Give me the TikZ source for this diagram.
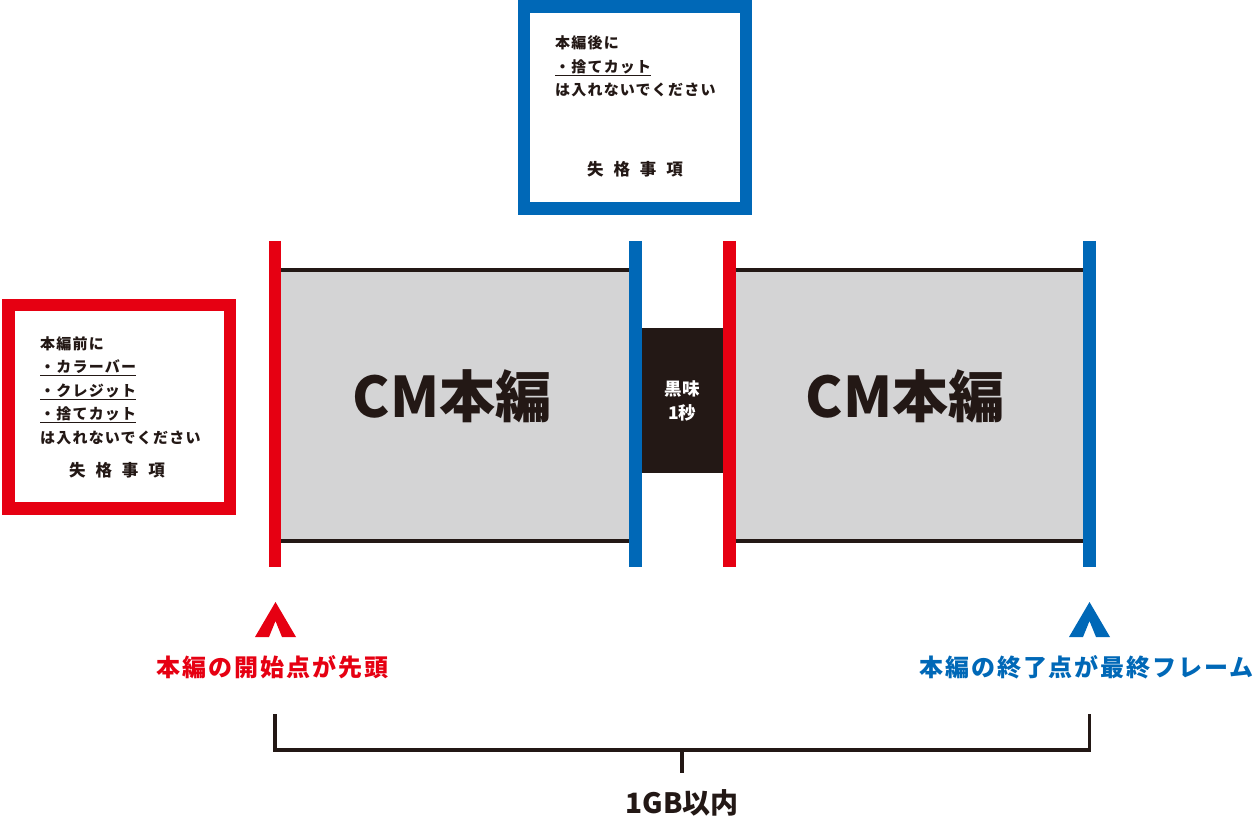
\documentclass[tikz,border=0pt]{standalone}
\usepackage{fontspec}
\setmainfont{Noto Sans CJK JP}
\usetikzlibrary{positioning}
\definecolor{cmred}{HTML}{E60012}
\definecolor{cmblue}{HTML}{0068B7}
\definecolor{cmgray}{HTML}{D4D4D5}
\definecolor{cmblack}{HTML}{231815}

\begin{document}
\begin{tikzpicture}[x=1pt,y=-1pt,
    frame/.style={draw=#1,line width=12.5pt,fill=white,inner sep=0pt},
    bar/.style={line width=12.5pt},
    rule/.style={line width=4pt,cmblack},
    note/.style={anchor=base west,inner sep=0pt,text=cmblack,
        font=\fontsize{15}{18}\selectfont\bfseries\addfontfeature{LetterSpace=8}},
    title/.style={anchor=base,inner sep=0pt,text=cmblack,
        font=\fontsize{16.5}{20}\selectfont\bfseries\addfontfeature{LetterSpace=60}},
    main/.style={anchor=base,inner sep=0pt,text=cmblack,
        font=\fontsize{56}{60}\selectfont\bfseries},
    pointlabel/.style={anchor=base,inner sep=0pt,
        font=\fontsize{24}{28}\selectfont\bfseries\addfontfeature{LetterSpace=8}}]
    \useasboundingbox (0,0) rectangle (1259,821);

    % gray parts and their edges
    \fill[cmgray] (275,269.7) rectangle (635.5,540.5);
    \fill[cmgray] (729.5,269.7) rectangle (1089.5,540.5);
    \draw[rule] (275,269.7) -- (635.5,269.7) (275,540.5) -- (635.5,540.5);
    \draw[rule] (729.5,269.7) -- (1089.5,269.7) (729.5,540.5) -- (1089.5,540.5);

    \node[fill=cmblack,minimum width=81.3pt,minimum height=145pt,inner sep=0pt,
        text=white,align=center,font=\fontsize{17.5}{24}\selectfont\bfseries]
        (blank) at (682.4,400.8) {黒味\\1秒};

    % in and out points
    \draw[bar,cmred] (275,241) -- (275,567);
    \draw[bar,cmblue] (635.5,241) -- (635.5,567);
    \draw[bar,cmred] (729.5,241) -- (729.5,567);
    \draw[bar,cmblue] (1089.5,241) -- (1089.5,567);

    \node[main] (cm1) at (452,417) {CM本編};
    \node[main] (cm2) at (905,417) {CM本編};

    % left box
    \node[frame=cmred,minimum width=221.5pt,minimum height=203.5pt] (before) at (119.25,406.75) {};
    \node[note] (b1) at (40,349) {本編前に};
    \node[note] (b2) at (40,372.5) {\underline{・カラーバー}};
    \node[note] (b3) at (40,396) {\underline{・クレジット}};
    \node[note] (b4) at (40,419.5) {\underline{・捨てカット}};
    \node[note] (b5) at (40,443) {は入れないでください};
    \node[title] (b6) at (117,476) {失格事項};

    % top box
    \node[frame=cmblue,minimum width=222pt,minimum height=202pt] (after) at (635,107.5) {};
    \node[note] (a1) at (555,49) {本編後に};
    \node[note] (a2) at (555,72.5) {\underline{・捨てカット}};
    \node[note] (a3) at (555,96) {は入れないでください};
    \node[title] (a4) at (635,176) {失格事項};

    % markers
    \fill[cmred] (275.5,602) -- (296,637) -- (282,637) -- (275.5,621)
        -- (269,637) -- (255,637) -- cycle;
    \fill[cmblue] (1089.5,602) -- (1110,637) -- (1096,637) -- (1089.5,621)
        -- (1083,637) -- (1069,637) -- cycle;
    \node[pointlabel,text=cmred] (start) at (272.5,676) {本編の開始点が先頭};
    \node[pointlabel,text=cmblue] (end) at (1086.5,676) {本編の終了点が最終フレーム};

    % size bracket
    \coordinate (l) at (275,716);
    \coordinate (r) at (1089.5,716);
    \coordinate (m) at (682,750);
    \draw[rule,line width=3.5pt,line cap=rect] (l) -- (l |- m) -- (r |- m) -- (r);
    \draw[rule,line width=3.5pt] (m) -- ++(0,23);
    \node[anchor=base,inner sep=0pt,text=cmblack,font=\fontsize{28}{32}\selectfont\bfseries]
        (size) at (682,813) {1GB以内};
\end{tikzpicture}
\end{document}
